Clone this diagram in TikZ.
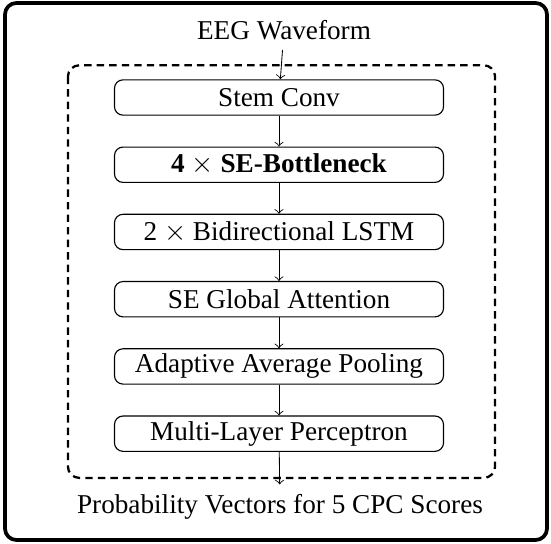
\documentclass[tikz,border=0pt]{standalone}
\usepackage{fontspec}
\setmainfont{Liberation Serif}
\usetikzlibrary{positioning,calc}

\begin{document}
\begin{tikzpicture}[x=0.351pt,y=-0.351pt,node distance=10.8pt,
  every node/.style={font=\fontsize{9.55pt}{11pt}\selectfont},
  block/.style={draw,rounded corners=3pt,minimum width=115.5pt,minimum height=12.4pt,inner sep=0pt},
  flow/.style={->,line width=0.3pt}]
\useasboundingbox (0,0) rectangle (551,544);
\draw [line width=1.3pt,rounded corners=4pt] (5,3) rectangle (547,540);

\node [block] (stem) at (279,97.5) {Stem Conv};
\node [block,below=of stem] (bneck) {\textbf{4 $\times$ SE-Bottleneck}};
\node [block,below=of bneck] (lstm) {2 $\times$ Bidirectional LSTM};
\node [block,below=of lstm] (att) {SE Global Attention};
\node [block,below=of att] (pool) {Adaptive Average Pooling};
\node [block,below=of pool] (mlp) {Multi-Layer Perceptron};

\node (eeg) at (284,30) {EEG Waveform};
\node (prob) at (280,507) {Probability Vectors for 5 CPC Scores};

\draw [dashed,line width=0.8pt,dash pattern=on 2.6pt off 1.8pt,rounded corners=4pt]
  ($(stem.north west)+(-46,-14)$) rectangle ($(mlp.south east)+(51,26)$);

\draw [flow] (eeg) -- (stem);
\draw [flow] (stem) -- (bneck);
\draw [flow] (bneck) -- (lstm);
\draw [flow] (lstm) -- (att);
\draw [flow] (att) -- (pool);
\draw [flow] (pool) -- (mlp);
\draw [flow] (mlp) -- (prob);
\end{tikzpicture}
\end{document}
